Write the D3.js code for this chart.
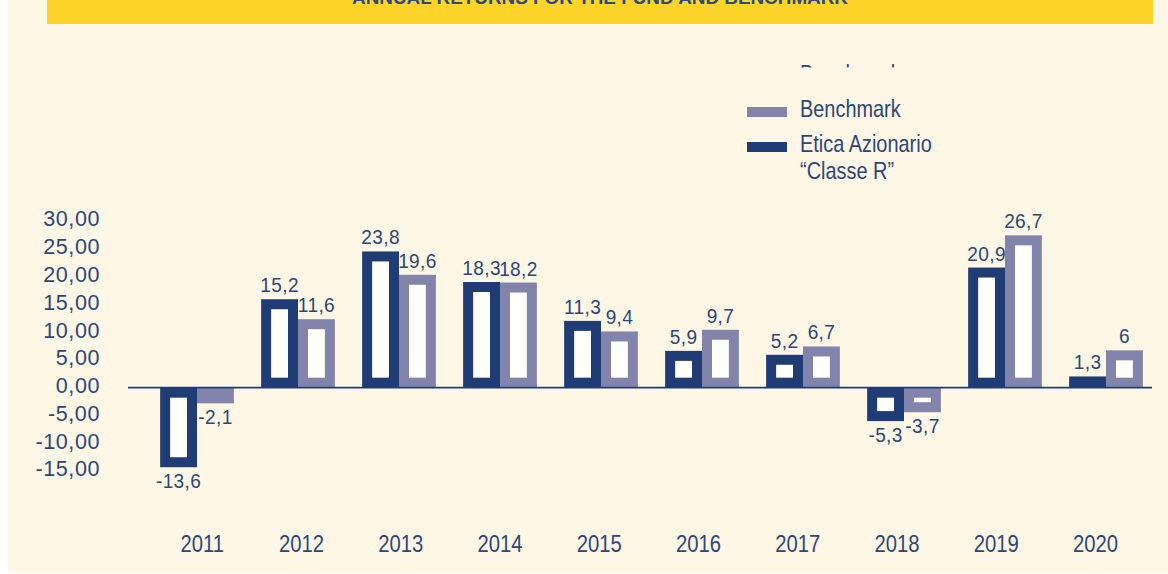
<!DOCTYPE html>
<html>
<head>
<meta charset="utf-8">
<script src="https://cdn.jsdelivr.net/npm/d3@7"></script>
<style>
  html, body { margin: 0; padding: 0; background: #ffffff; }
  svg { display: block; }
</style>
</head>
<body>
<svg id="chart" width="1168" height="574"></svg>
<script>
// ---- data ----
const years = ["2011","2012","2013","2014","2015","2016","2017","2018","2019","2020"];
const seriesNames = ["Etica Azionario", "Benchmark"];
const eticaValues = [-13.6, 15.2, 23.8, 18.3, 11.3, 5.9, 5.2, -5.3, 20.9, 1.3];
const benchmarkValues = [-2.1, 11.6, 19.6, 18.2, 9.4, 9.7, 6.7, -3.7, 26.7, 6];
const yTickValues = [30, 25, 20, 15, 10, 5, 0, -5, -10, -15];
const titleText = "ANNUAL RETURNS FOR THE FUND AND BENCHMARK";
const legendLabels = [["Benchmark"], ["Etica Azionario", "\u201CClasse R\u201D"]];

// ---- styles ----
const NAVY = "#1f3c74";
const LAV = "#8384ab";
const TEXT = "#2b4779";
const CREAM = "#fef7e6";
const INNER = "#fffef9";
const YELLOW = "#ffd42a";
const FONT = "'Liberation Sans', Arial, sans-serif";
const NARROW_X = 0.83;

const svg = d3.select("#chart");

// backgrounds
svg.append("rect").attr("x", 8).attr("y", 0).attr("width", 1160).attr("height", 573).attr("fill", CREAM);
svg.append("rect").attr("x", 47).attr("y", 0).attr("width", 1106).attr("height", 24).attr("fill", YELLOW);
svg.append("text").attr("x", 352).attr("y", 4)
  .attr("textLength", 496).attr("lengthAdjust", "spacingAndGlyphs")
  .attr("font-family", FONT).attr("font-weight", "bold").attr("font-size", 18)
  .attr("fill", "#2a4a86").text(titleText);

// scales
const y = d3.scaleLinear().domain([-15, 30]).range([471.0, 221.0]);
const x0 = d3.scaleBand().domain(years).range([146.5, 1156.5]).paddingInner(0.27).paddingOuter(0.135);
const x1 = d3.scaleBand().domain(seriesNames).range([0, x0.bandwidth()]).padding(0);
const xLabel = d3.scalePoint().domain(years).range([201.7, 1095]);
const color = d3.scaleOrdinal().domain(seriesNames).range([NAVY, LAV]);

const fmtTick = v => d3.format(".2f")(v).replace(".", ",").replace("\u2212", "-");
const fmtVal = v => (Number.isInteger(v) ? String(v) : d3.format(".1f")(v)).replace(".", ",").replace("\u2212", "-");

const rows = [];
years.forEach((yr, i) => {
  rows.push({ year: yr, series: seriesNames[0], value: eticaValues[i] });
  rows.push({ year: yr, series: seriesNames[1], value: benchmarkValues[i] });
});

const PAD = 4, INSET = 10;
const y0 = y(0);

const bars = svg.append("g").selectAll("g").data(rows).join("g");
bars.each(function(d) {
  const g = d3.select(this);
  const bx = x0(d.year) + x1(d.series);
  const bw = x1.bandwidth();
  const top = d.value >= 0 ? y(d.value) - PAD : y0;
  const bot = d.value >= 0 ? y0 : y(d.value) + PAD;
  const cx = bx + bw / 2;
  g.append("rect").attr("x", bx).attr("y", top).attr("width", bw).attr("height", bot - top)
    .attr("fill", color(d.series));
  const ih = (bot - top) - 2 * INSET;
  if (ih > 0) {
    g.append("rect").attr("x", bx + INSET).attr("y", top + INSET)
      .attr("width", bw - 2 * INSET).attr("height", ih).attr("fill", INNER);
  }
  g.append("text")
    .attr("transform", `translate(${cx},${d.value >= 0 ? top - 7 : bot + 21}) scale(0.93,1)`)
    .attr("text-anchor", "middle").attr("letter-spacing", 0.4)
    .attr("font-family", FONT).attr("font-size", 20.5).attr("fill", TEXT)
    .text(fmtVal(d.value));
});

// zero line
svg.append("line").attr("x1", 128).attr("x2", 1152).attr("y1", y0).attr("y2", y0)
  .attr("stroke", NAVY).attr("stroke-width", 1.6);

// y axis labels
const yAxis = svg.append("g").attr("transform", "translate(100,-2)")
  .call(d3.axisLeft(y).tickValues(yTickValues).tickFormat(fmtTick).tickSize(0).tickPadding(0));
yAxis.select(".domain").remove();
yAxis.selectAll("text").attr("font-family", FONT).attr("font-size", 21.5).attr("fill", TEXT)
  .attr("letter-spacing", 0.6);

// x axis labels
const xAxis = svg.append("g").attr("transform", "translate(0,551.5)")
  .call(d3.axisBottom(xLabel).tickSize(0).tickPadding(0));
xAxis.select(".domain").remove();
xAxis.selectAll("text").attr("y", 0).attr("dy", null).attr("transform", "scale(0.88,1)")
  .attr("font-family", FONT).attr("font-size", 23).attr("fill", TEXT);

// legend
const legend = svg.append("g");
const legendColors = [LAV, NAVY];
const legendY = [107, 142];
legendLabels.forEach((lines, i) => {
  legend.append("rect").attr("x", 747).attr("y", legendY[i]).attr("width", 40).attr("height", 10)
    .attr("fill", legendColors[i]);
  lines.forEach((t, j) => {
    legend.append("text")
      .attr("transform", `translate(800,${legendY[i] + 10 + j * 26.5}) scale(${NARROW_X},1)`)
      .attr("font-family", FONT).attr("font-size", 24).attr("fill", TEXT).text(t);
  });
});

// clipped ghost legend text at the top
const defs = svg.append("defs");
defs.append("clipPath").attr("id", "ghostclip").append("rect")
  .attr("x", 780).attr("y", 55).attr("width", 200).attr("height", 12.5);
svg.append("g").attr("clip-path", "url(#ghostclip)")
  .append("text")
  .attr("transform", `translate(800,82) scale(${NARROW_X},1)`)
  .attr("font-family", FONT).attr("font-size", 24)
  .attr("fill", TEXT).text(legendLabels[0][0]);
</script>
</body>
</html>
